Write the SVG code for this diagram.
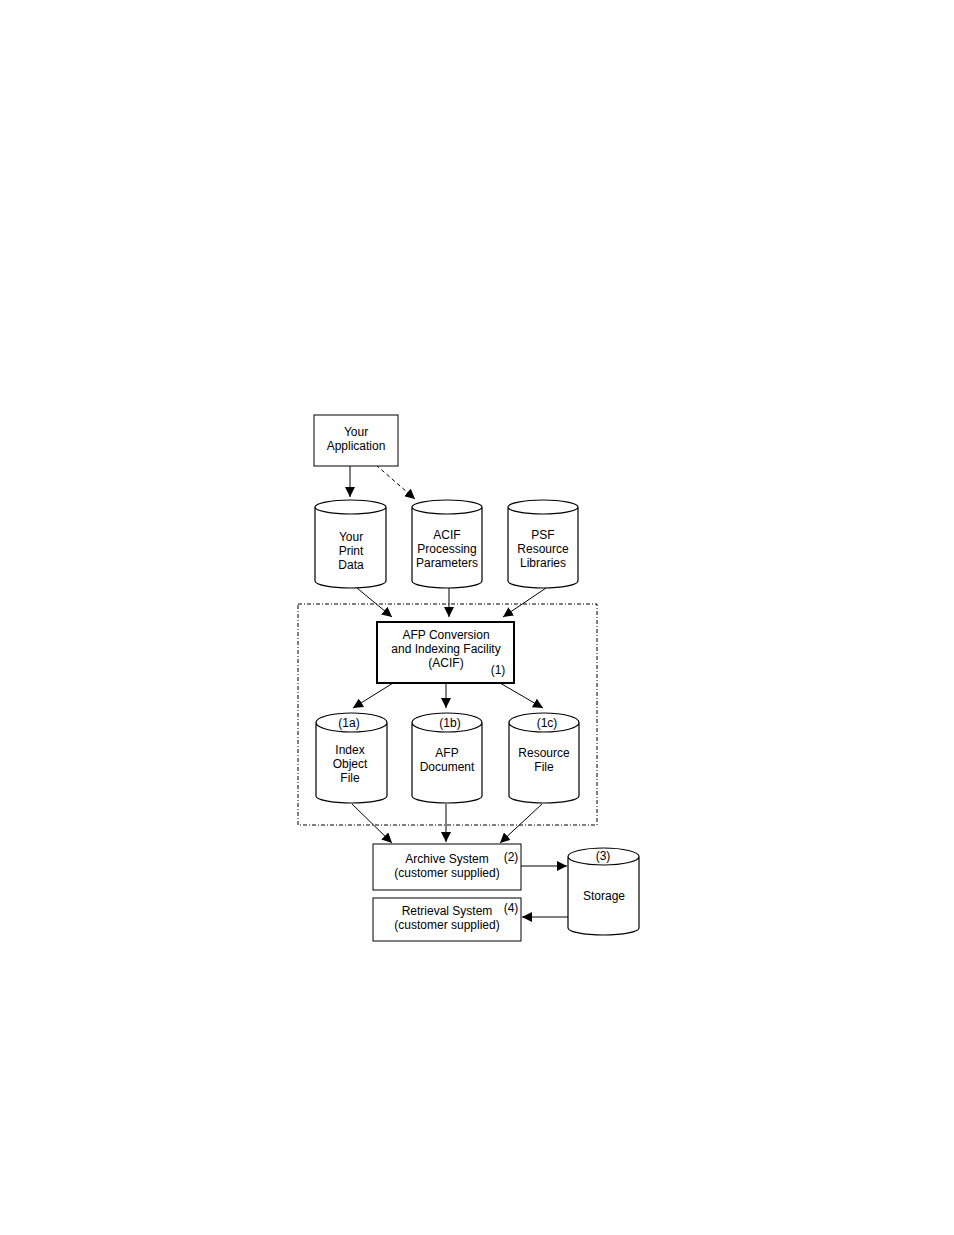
<svg xmlns="http://www.w3.org/2000/svg" width="954" height="1235" viewBox="0 0 954 1235">
<defs>
<marker id="ahl" viewBox="0 0 10 10" refX="10" refY="5" markerWidth="10" markerHeight="10" markerUnits="userSpaceOnUse" orient="auto">
<path d="M0,0 L10,5 L0,10 z" fill="#000"/>
</marker>
</defs>
<style>
text{font-family:"Liberation Sans",Arial,sans-serif;font-size:12px;fill:#000;text-anchor:middle}
.box{fill:#fff;stroke:#000;stroke-width:1}
.thick{fill:#fff;stroke:#000;stroke-width:2}
.cyl{fill:#fff;stroke:#000;stroke-width:1.2}
.ln{fill:none;stroke:#000;stroke-width:1}
.frame{fill:none;stroke:#000;stroke-width:1;stroke-dasharray:4,2,1,2}
</style>
<rect width="954" height="1235" fill="#fff"/>

<g id="boundary"><rect class="frame" x="298" y="604" width="299" height="221"/></g>

<g id="connectors">
<line class="ln" x1="350" y1="466" x2="350" y2="497" marker-end="url(#ahl)"/>
<line class="ln" x1="376" y1="465" x2="415" y2="499" stroke-dasharray="4,3" marker-end="url(#ahl)"/>
<line class="ln" x1="357" y1="588" x2="392" y2="617" marker-end="url(#ahl)"/>
<line class="ln" x1="449" y1="588" x2="449" y2="617" marker-end="url(#ahl)"/>
<line class="ln" x1="546" y1="588" x2="503" y2="617" marker-end="url(#ahl)"/>
<line class="ln" x1="393" y1="683" x2="353" y2="708" marker-end="url(#ahl)"/>
<line class="ln" x1="446" y1="683" x2="446" y2="708" marker-end="url(#ahl)"/>
<line class="ln" x1="500" y1="683" x2="543" y2="708" marker-end="url(#ahl)"/>
<line class="ln" x1="352" y1="804" x2="392" y2="843" marker-end="url(#ahl)"/>
<line class="ln" x1="446" y1="804" x2="446" y2="842" marker-end="url(#ahl)"/>
<line class="ln" x1="542" y1="804" x2="500" y2="843" marker-end="url(#ahl)"/>
<line class="ln" x1="521" y1="866" x2="567" y2="866" marker-end="url(#ahl)"/>
<line class="ln" x1="569" y1="917" x2="522" y2="917" marker-end="url(#ahl)"/>
</g>

<g id="your-application">
<rect class="box" x="314" y="415" width="84" height="51"/>
<text x="356" y="436">Your</text>
<text x="356" y="450">Application</text>
</g>

<g id="your-print-data">
<path class="cyl" d="M315,507 L315,581 A35.5,7 0 0 0 386,581 L386,507 A35.5,7 0 0 0 315,507 A35.5,7 0 0 0 386,507"/>
<text x="351" y="541">Your</text>
<text x="351" y="555">Print</text>
<text x="351" y="569">Data</text>
</g>

<g id="acif-parameters">
<path class="cyl" d="M412,507 L412,581 A35,7 0 0 0 482,581 L482,507 A35,7 0 0 0 412,507 A35,7 0 0 0 482,507"/>
<text x="447" y="539">ACIF</text>
<text x="447" y="553">Processing</text>
<text x="447" y="567">Parameters</text>
</g>

<g id="psf-resource-libraries">
<path class="cyl" d="M508,507 L508,581 A35,7 0 0 0 578,581 L578,507 A35,7 0 0 0 508,507 A35,7 0 0 0 578,507"/>
<text x="543" y="539">PSF</text>
<text x="543" y="553">Resource</text>
<text x="543" y="567">Libraries</text>
</g>

<g id="acif">
<rect class="thick" x="377" y="622" width="137" height="61"/>
<text x="446" y="639">AFP Conversion</text>
<text x="446" y="653">and Indexing Facility</text>
<text x="446" y="667">(ACIF)</text>
<text x="498" y="674">(1)</text>
</g>

<g id="index-object-file">
<path class="cyl" d="M316,722.5 L316,796 A35.5,7 0 0 0 387,796 L387,722.5 A35.5,9.5 0 0 0 316,722.5 A35.5,9.5 0 0 0 387,722.5"/>
<text x="349" y="727">(1a)</text>
<text x="350" y="754">Index</text>
<text x="350" y="768">Object</text>
<text x="350" y="782">File</text>
</g>

<g id="afp-document">
<path class="cyl" d="M412,722.5 L412,796 A35,7 0 0 0 482,796 L482,722.5 A35,9.5 0 0 0 412,722.5 A35,9.5 0 0 0 482,722.5"/>
<text x="450" y="727">(1b)</text>
<text x="447" y="757">AFP</text>
<text x="447" y="771">Document</text>
</g>

<g id="resource-file">
<path class="cyl" d="M509,722.5 L509,796 A35,7 0 0 0 579,796 L579,722.5 A35,9.5 0 0 0 509,722.5 A35,9.5 0 0 0 579,722.5"/>
<text x="547" y="727">(1c)</text>
<text x="544" y="757">Resource</text>
<text x="544" y="771">File</text>
</g>

<g id="archive-system">
<rect class="box" x="373" y="844" width="148" height="46"/>
<text x="447" y="863">Archive System</text>
<text x="447" y="877">(customer supplied)</text>
<text x="511" y="861">(2)</text>
</g>

<g id="retrieval-system">
<rect class="box" x="373" y="898" width="148" height="43"/>
<text x="447" y="915">Retrieval System</text>
<text x="447" y="929">(customer supplied)</text>
<text x="511" y="912">(4)</text>
</g>

<g id="storage">
<path class="cyl" d="M568,856.5 L568,928 A35.5,7 0 0 0 639,928 L639,856.5 A35.5,8.5 0 0 0 568,856.5 A35.5,8.5 0 0 0 639,856.5"/>
<text x="603" y="860">(3)</text>
<text x="604" y="900">Storage</text>
</g>
</svg>
